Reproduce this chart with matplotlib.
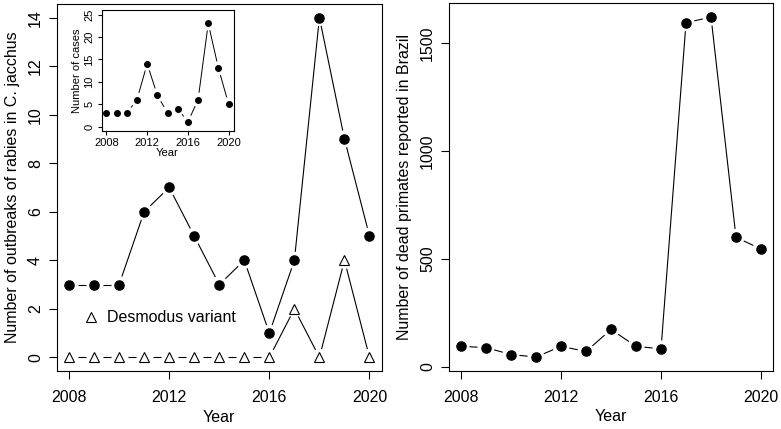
import numpy as np
import matplotlib
matplotlib.use('Agg')
import matplotlib.pyplot as plt
from matplotlib.lines import Line2D

plt.rcParams['font.family'] = ['Liberation Sans', 'DejaVu Sans']

years = np.arange(2008, 2021)
outbreaks = [3, 3, 3, 6, 7, 5, 3, 4, 1, 4, 14, 9, 5]
desmodus = [0, 0, 0, 0, 0, 0, 0, 0, 0, 2, 0, 4, 0]
cases = [3, 3, 3, 6, 14, 7, 3, 4, 1, 6, 23, 13, 5]
dead_primates = [95, 89, 57, 45, 95, 71, 173, 95, 83, 1595, 1621, 600, 546]

main_fs = 11.5
small_fs = 8


def rlim(vals):
    # R default axis range: data range padded by 4% on each side
    lo, hi = min(vals), max(vals)
    d = (hi - lo) * 0.04
    return lo - d, hi + d


def gapped_line(ax, x, y, gap_px, lw=0.8):
    # R type="b": segments stop short of each point
    fig = ax.figure
    fig.canvas.draw()
    pts = ax.transData.transform(np.column_stack([x, y]))
    inv = ax.transData.inverted()
    for p0, p1 in zip(pts[:-1], pts[1:]):
        d = p1 - p0
        L = np.hypot(*d)
        if L <= 2 * gap_px:
            continue
        u = d / L
        a = inv.transform(p0 + u * gap_px)
        b = inv.transform(p1 - u * gap_px)
        ax.plot([a[0], b[0]], [a[1], b[1]], color='black', lw=lw,
                solid_capstyle='butt', zorder=2)


def style(ax, fs, ticklen, pad):
    for s in ax.spines.values():
        s.set_linewidth(0.8)
    ax.tick_params(direction='out', length=ticklen, width=0.8, labelsize=fs, pad=pad)
    ax.tick_params(axis='y', labelrotation=90)
    for lab in ax.get_yticklabels():
        lab.set_va('center')


fig = plt.figure(figsize=(7.81, 4.29), dpi=100)

# left panel
ax1 = fig.add_axes([0.0730, 0.1352, 0.4155, 0.8555])
ax1.set_xlim(*rlim(years))
ax1.set_ylim(-0.56, 14.56)
ax1.set_xticks([2008, 2012, 2016, 2020])
ax1.set_yticks(np.arange(0, 15, 2))
style(ax1, main_fs, 6, 8)
ax1.tick_params(axis='y', pad=4)
ax1.set_xlabel('Year', fontsize=main_fs, labelpad=3)
ax1.set_ylabel('Number of outbreaks of rabies in C. jacchus', fontsize=main_fs, labelpad=6)
ax1.plot(years, outbreaks, 'o', color='black', ms=6.6, zorder=3)
ax1.plot(years, desmodus, '^', mfc='white', mec='black', mew=0.8, ms=7.2, zorder=3)
gapped_line(ax1, years, outbreaks, 8.5)
gapped_line(ax1, years, desmodus, 8.5)
handle = Line2D([], [], marker='^', ls='none', mfc='white', mec='black', mew=0.8, ms=7.2)
ax1.legend([handle], ['Desmodus variant'], loc='center left', bbox_to_anchor=(0.035, 0.145),
           frameon=False, fontsize=main_fs, handlelength=1.0, handletextpad=0.5)

# inset
ax3 = fig.add_axes([0.130, 0.6946, 0.169, 0.282])
ax3.set_xlim(*rlim(years))
ax3.set_ylim(-1, 26)
ax3.set_xticks([2008, 2012, 2016, 2020])
ax3.set_yticks(np.arange(0, 26, 5))
style(ax3, small_fs, 3, 2)
ax3.set_xlabel('Year', fontsize=small_fs, labelpad=0)
ax3.set_ylabel('Number of cases', fontsize=small_fs, labelpad=2)
ax3.plot(years, cases, 'o', color='black', ms=4, zorder=3)
gapped_line(ax3, years, cases, 7, lw=0.7)

# right panel
ax2 = fig.add_axes([0.5749, 0.1359, 0.4149, 0.856])
ax2.set_xlim(*rlim(years))
ax2.set_ylim(*rlim(dead_primates))
ax2.set_xticks([2008, 2012, 2016, 2020])
ax2.set_yticks([0, 500, 1000, 1500])
style(ax2, main_fs, 6, 8)
ax2.tick_params(axis='y', pad=4)
ax2.set_xlabel('Year', fontsize=main_fs, labelpad=3)
ax2.set_ylabel('Number of dead primates reported in Brazil', fontsize=main_fs, labelpad=6)
ax2.plot(years, dead_primates, 'o', color='black', ms=6.6, zorder=3)
gapped_line(ax2, years, dead_primates, 8.5)

fig.savefig('out.png', dpi=100)
